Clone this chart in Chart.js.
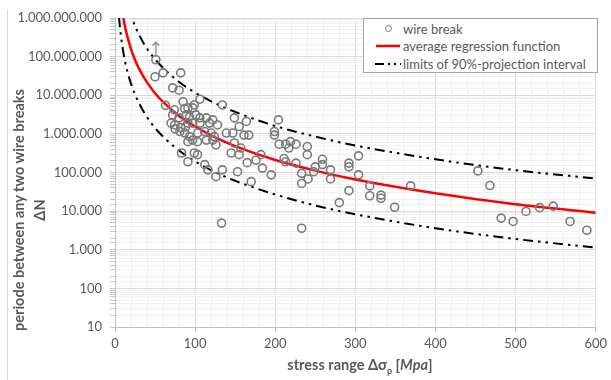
<!DOCTYPE html>
<html>
<head>
<meta charset="utf-8">
<script src="https://cdn.jsdelivr.net/npm/chart.js@4.4.1/dist/chart.umd.min.js"></script>
<style>
  html, body { margin: 0; padding: 0; background: #fff; }
  #wrap { position: relative; width: 611px; height: 380px; overflow: hidden; font-family: Lato, sans-serif; color: #595959; }
  #wrap canvas { position: absolute; left: 0; top: 0; }
  .frame { position: absolute; left: 7px; top: 10px; bottom: 0; border-left: 1px solid #d9d9d9; }
  .ytitle { position: absolute; left: 29px; top: 210px; width: 320px; transform: translate(-50%, -50%) rotate(-90deg);
            text-align: center; font-weight: bold; font-size: 14.5px; line-height: 21px; white-space: nowrap; }
  .xtitle { position: absolute; left: 360px; top: 366px; transform: translate(-50%, -50%);
            font-weight: bold; font-size: 14.5px; white-space: nowrap; }
  .xtitle sub { font-size: 9px; }
  #legend { position: absolute; left: 363px; top: 18px; width: 233px; height: 52px; border: 1px solid #a6a6a6;
            background: #fff; padding-top: 1px; box-sizing: content-box; }
  #legend .row { display: flex; align-items: center; height: 17.5px; font-size: 13px; white-space: nowrap; }
  #legend .mk { width: 26px; margin-left: 11px; display: flex; justify-content: center; align-items: center; }
  #legend .txt { margin-left: 2px; }
</style>
</head>
<body>
<div id="wrap">
  <canvas id="chart" width="611" height="380"></canvas>
  <div class="frame"></div>
  <div class="ytitle">periode between any two wire breaks<br>ΔN</div>
  <div class="xtitle">stress range Δσ<sub>p</sub> [<i>Mpa</i>]</div>
  <div id="legend"></div>
</div>
<script>
// wire breaks: stress range [MPa] and cycles between breaks
const breakStress = [
  51, 50, 60, 82, 72, 80, 63, 85, 106, 134, 149, 204, 87, 97, 93, 72, 80, 70, 97, 88,
  75, 82, 74, 91, 99, 89, 101, 106, 114, 122, 164, 74.5, 91, 106, 118, 128, 139, 147, 155, 161,
  167, 81, 87, 93, 103, 112, 120, 124, 91, 97, 103, 114, 122, 126, 149, 157, 83, 91, 99, 103,
  112, 116, 126, 134, 153, 170, 133, 145, 155, 182, 165, 176, 184, 195, 199, 199, 205, 213, 219, 226,
  217, 211, 213, 226, 240, 240, 259, 259, 250, 248, 269, 269, 233, 233, 241, 233, 292, 292, 304, 304,
  292, 280, 318, 318, 332, 332, 349, 369, 453, 468, 482, 497, 513, 530, 547, 568, 589
];
const breakCycles = [
  8.3e7, 3.0e7, 3.8e7, 3.8e7, 1.55e7, 1.35e7, 5.5e6, 6.8e6, 7.9e6, 5.6e6, 2.6e6, 2.3e6, 4.5e6, 4.7e6, 2.75e6, 3.1e6, 2.6e6, 1.9e6, 1.9e6, 1.5e6,
  1.35e6, 1.45e6, 4.2e6, 4.7e6, 5.6e6, 3.1e6, 3.1e6, 2.6e6, 2.6e6, 2.3e6, 2.1e6, 1.7e6, 1.9e6, 1.9e6, 1.9e6, 1.7e6, 1.05e6, 1.05e6, 1.55e6, 9.3e5,
  9.3e5, 1.15e6, 1.05e6, 8.5e5, 1.05e6, 1.15e6, 1.05e6, 8.5e5, 6.3e5, 6.9e5, 6.3e5, 6.9e5, 6.9e5, 5.2e5, 5.8e5, 4.3e5, 3.2e5, 1.9e5, 3.2e5, 2.9e5,
  1.6e5, 1.17e5, 7.8e4, 1.17e5, 1.05e5, 5.8e4, 4.9e3, 3.2e5, 2.9e5, 2.9e5, 1.8e5, 2.1e5, 1.3e5, 8.7e4, 1.15e6, 9.3e5, 5.4e5, 5.4e5, 6.3e5, 5.4e5,
  4.3e5, 2.3e5, 1.9e5, 1.75e5, 4.7e5, 2.9e5, 2.2e5, 1.6e5, 1.4e5, 1.05e5, 1.17e5, 6.8e4, 9.5e4, 5.2e4, 6.8e4, 3.6e3, 1.75e5, 1.4e5, 2.7e5, 8.7e4,
  3.4e4, 1.66e4, 4.5e4, 2.5e4, 2.6e4, 2.15e4, 1.26e4, 4.5e4, 1.1e5, 4.6e4, 6.6e3, 5.4e3, 9.8e3, 1.23e4, 1.35e4, 5.4e3, 3.2e3
];

// run-out marker (arrow above the top specimen)
const runOutStress = [51];
const runOutCycles = [1.6e8];

// regression curve and 90% limits
const curveStress = [5, 6, 8, 10, 12, 15, 20, 25, 30, 40, 50, 60, 80, 100, 125, 150, 200, 250, 300, 400, 500, 600];
const meanCycles  = [8.4e9, 5.0e9, 2.2e9, 1.15e9, 6.8e8, 3.6e8, 1.57e8, 8.3e7, 4.9e7, 2.15e7, 1.13e7, 6.7e6, 2.9e6, 1.55e6, 8.1e5, 4.8e5, 2.1e5, 1.12e5, 6.6e4, 2.9e4, 1.5e4, 9.1e3];
const upperCycles = [6.3e10, 3.8e10, 1.7e10, 8.7e9, 5.1e9, 2.7e9, 1.2e9, 6.3e8, 3.7e8, 1.6e8, 8.6e7, 5.1e7, 2.2e7, 1.17e7, 6.2e6, 3.7e6, 1.6e6, 8.5e5, 5.0e5, 2.2e5, 1.15e5, 7.0e4];
const lowerCycles = [1.05e9, 6.3e8, 2.75e8, 1.45e8, 8.5e7, 4.5e7, 2.0e7, 1.05e7, 6.2e6, 2.7e6, 1.42e6, 8.5e5, 3.7e5, 1.95e5, 1.02e5, 6.1e4, 2.7e4, 1.4e4, 8.3e3, 3.6e3, 1.9e3, 1.14e3];

const yTickLabels = [10, 100, 1e3, 1e4, 1e5, 1e6, 1e7, 1e8, 1e9];
const xTickLabels = [0, 100, 200, 300, 400, 500, 600];

const toPoints = (xs, ys) => xs.map((x, i) => ({ x, y: ys[i] }));
const fmt = (v) => String(Math.round(v)).replace(/\B(?=(\d{3})+(?!\d))/g, ".");
const isDecade = (v) => yTickLabels.some((t) => Math.abs(Math.log10(v) - Math.log10(t)) < 1e-6);

const dashDot = [10, 5, 2.5, 5, 2.5, 5];

// little arrow used as point style for the run-out
const arrow = document.createElement("canvas");
arrow.width = 9;
arrow.height = 15;
const a = arrow.getContext("2d");
a.strokeStyle = "#808080";
a.lineWidth = 1.2;
a.beginPath();
a.moveTo(4.5, 15);
a.lineTo(4.5, 1);
a.moveTo(1, 4.5);
a.lineTo(4.5, 1);
a.lineTo(8, 4.5);
a.stroke();

const tickFont = { family: "Lato", size: 13 };

const chart = new Chart(document.getElementById("chart"), {
  type: "scatter",
  data: {
    datasets: [
      {
        label: "wire break",
        data: toPoints(breakStress, breakCycles),
        pointStyle: "circle",
        radius: 4,
        borderColor: "#7a7a7a",
        borderWidth: 1.6,
        backgroundColor: "rgba(255,255,255,0)",
        order: 0,
        legendMark: "circle",
      },
      {
        label: "run-out",
        data: toPoints(runOutStress, runOutCycles),
        pointStyle: arrow,
        radius: 5,
        order: 0,
      },
      {
        type: "line",
        label: "average regression function",
        data: toPoints(curveStress, meanCycles),
        borderColor: "#ff0000",
        borderWidth: 2.5,
        pointRadius: 0,
        showLine: true,
        cubicInterpolationMode: "monotone",
        order: 1,
        legendMark: "red",
      },
      {
        type: "line",
        label: "limits of 90%-projection interval",
        data: toPoints(curveStress, upperCycles),
        borderColor: "#000",
        borderWidth: 2,
        borderDash: dashDot,
        pointRadius: 0,
        showLine: true,
        cubicInterpolationMode: "monotone",
        order: 1,
        legendMark: "dash",
      },
      {
        type: "line",
        label: "lower limit",
        data: toPoints(curveStress, lowerCycles),
        borderColor: "#000",
        borderWidth: 2,
        borderDash: dashDot,
        pointRadius: 0,
        showLine: true,
        cubicInterpolationMode: "monotone",
        order: 1,
      },
    ],
  },
  options: {
    responsive: false,
    animation: false,
    events: [],
    layout: { padding: { left: 10, right: 13, top: 18, bottom: 0 } },
    plugins: { legend: { display: false }, tooltip: { enabled: false } },
    scales: {
      x: {
        type: "linear",
        min: 0,
        max: 600,
        afterFit: (s) => { s.height = 53; },
        ticks: {
          stepSize: 20,
          autoSkip: false,
          maxRotation: 0,
          padding: 4,
          font: tickFont,
          color: "#595959",
          callback: (v) => (xTickLabels.includes(v) ? v : ""),
        },
        grid: {
          color: (c) => (c.tick && c.tick.value % 100 === 0 ? "#d9d9d9" : "#ededed"),
          tickLength: 5,
          tickColor: (c) => (c.tick && c.tick.value % 100 === 0 ? "#bfbfbf" : "rgba(0,0,0,0)"),
        },
        border: { color: "#bfbfbf" },
      },
      y: {
        type: "logarithmic",
        min: 10,
        max: 1e9,
        afterFit: (s) => { s.width = 105; },
        ticks: {
          autoSkip: false,
          padding: 8,
          font: tickFont,
          color: "#595959",
          callback: (v) => (isDecade(v) ? fmt(v) : ""),
        },
        grid: {
          color: (c) => (c.tick && isDecade(c.tick.value) ? "#d9d9d9" : "#f0f0f0"),
          tickLength: 5,
          tickColor: "#c8c8c8",
        },
        border: { color: "#bfbfbf" },
      },
    },
  },
});

// legend built from the datasets
const legend = document.getElementById("legend");
chart.data.datasets.forEach((ds) => {
  if (!ds.legendMark) return;
  let mark = "";
  if (ds.legendMark === "circle") {
    mark = `<span style="display:inline-block;width:5px;height:5px;border:1.5px solid ${ds.borderColor};border-radius:50%"></span>`;
  } else if (ds.legendMark === "red") {
    mark = `<svg width="24" height="4"><line x1="0" y1="2" x2="24" y2="2" stroke="${ds.borderColor}" stroke-width="2.5"/></svg>`;
  } else {
    mark = `<svg width="26" height="4"><line x1="0" y1="2" x2="26" y2="2" stroke="${ds.borderColor}" stroke-width="2" stroke-dasharray="9 4 2 4 2 4"/></svg>`;
  }
  legend.innerHTML += `<div class="row"><span class="mk">${mark}</span><span class="txt">${ds.label}</span></div>`;
});
</script>
</body>
</html>
